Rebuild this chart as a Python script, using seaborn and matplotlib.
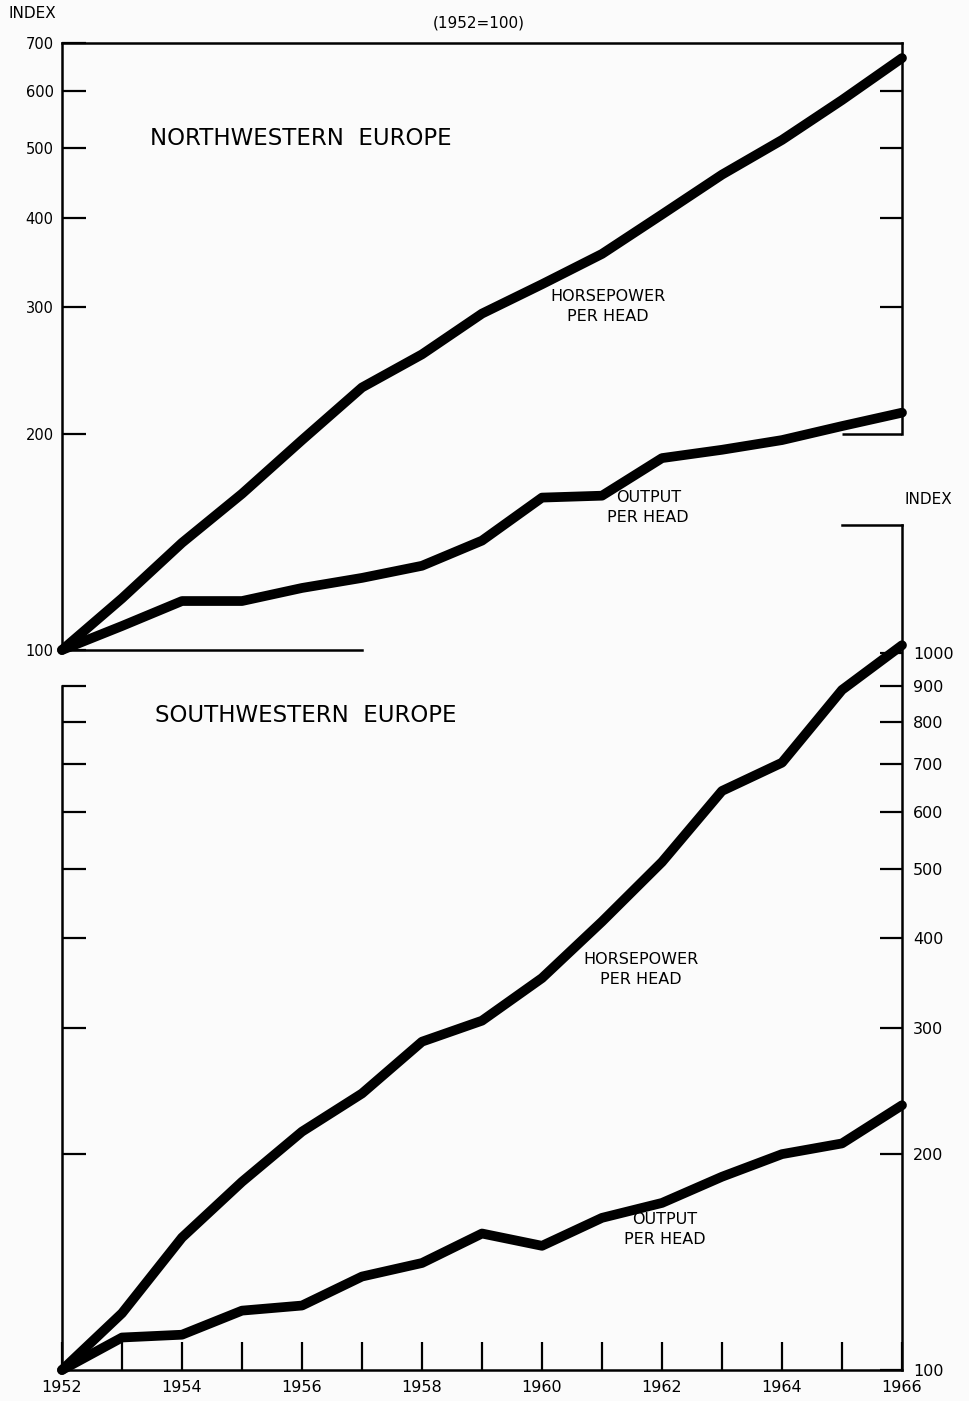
import numpy as np
import pandas as pd
import matplotlib
matplotlib.use("Agg")
import matplotlib.pyplot as plt
import seaborn as sns

# index values, 1952 = 100
years = list(range(1952, 1967))
nw_hp = [100, 118, 141, 165, 196, 232, 258, 294, 323, 356, 404, 459, 513, 583, 667]
nw_out = [100, 108, 117, 117, 122, 126, 131, 142, 163, 164, 185, 190, 196, 205, 214]
sw_hp = [100, 120, 153, 183, 215, 243, 287, 307, 352, 422, 511, 642, 703, 888, 1025]
sw_out = [100, 111, 112, 121, 123, 135, 141, 155, 149, 163, 171, 186, 200, 207, 234]

nw_left_ticks = [100, 200, 300, 400, 500, 600, 700]
nw_right_ticks = [300, 400, 500, 600]
sw_left_ticks = [200, 300, 400, 500, 600, 700, 800, 900]
sw_right_ticks = [100, 200, 300, 400, 500, 600, 700, 800, 900, 1000]
year_ticks = years
year_labels = [str(y) if y % 2 == 0 else "" for y in years]

df_nw = pd.DataFrame({"year": years * 2, "index": nw_hp + nw_out,
                      "series": ["hp"] * 15 + ["out"] * 15})
df_sw = pd.DataFrame({"year": years * 2, "index": sw_hp + sw_out,
                      "series": ["hp"] * 15 + ["out"] * 15})

sns.set_style("white")
plt.rcParams["font.family"] = ["DejaVu Sans"]
plt.rcParams["text.color"] = "black"
plt.rcParams["xtick.color"] = "black"
plt.rcParams["ytick.color"] = "black"
plt.rcParams["xtick.labelcolor"] = "black"
plt.rcParams["ytick.labelcolor"] = "black"

W, H = 969, 1401
fig = plt.figure(figsize=(W / 100, H / 100), dpi=100)
fig.patch.set_facecolor("#fbfbfb")


def box(l, t, r, b):
    return [l / W, 1 - b / H, (r - l) / W, (b - t) / H]


ax_nw = fig.add_axes(box(62, 43, 902, 650))
ax_sw = fig.add_axes(box(62, 525, 902, 1370))

line_kw = dict(lw=7, legend=False, clip_on=False,
               solid_joinstyle="round", solid_capstyle="round")

for ax, df, ylim in [(ax_nw, df_nw, (100, 700)), (ax_sw, df_sw, (100, 1508))]:
    ax.set_facecolor("none")
    ax.set_yscale("log")
    sns.lineplot(data=df, x="year", y="index", hue="series",
                 palette=["black", "black"], ax=ax, **line_kw)
    ax.set_xlim(1952, 1966)
    ax.set_ylim(*ylim)
    ax.minorticks_off()
    ax.set_xlabel("")
    ax.set_ylabel("")
    for s in ax.spines.values():
        s.set_linewidth(1.8)
        s.set_color("black")

# ---- top panel: northwestern europe
ax_nw.set_yticks(nw_left_ticks)
ax_nw.set_yticklabels([str(v) for v in nw_left_ticks])
ax_nw.tick_params(axis="y", direction="in", length=17, width=1.6,
                  labelsize=10.5, pad=6, right=False, left=True)
ax_nw.tick_params(axis="x", bottom=False, labelbottom=False)
ax_nw.spines["right"].set_bounds(200, 700)
ax_nw.spines["bottom"].set_bounds(1952, 1957)
ax_nw.hlines(200, 1965, 1966, color="black", lw=1.8)

tw_nw = ax_nw.twinx()
tw_nw.set_yscale("log")
tw_nw.set_ylim(100, 700)
tw_nw.minorticks_off()
tw_nw.set_yticks(nw_right_ticks)
tw_nw.set_yticklabels([])
tw_nw.tick_params(axis="y", direction="in", length=16, width=1.6)
for s in tw_nw.spines.values():
    s.set_visible(False)

ax_nw.text(1953.47, 516, "NORTHWESTERN  EUROPE", fontsize=16.5,
           ha="left", va="center")
ax_nw.text(1961.1, 301, "HORSEPOWER\nPER HEAD", fontsize=11.5,
           ha="center", va="center", linespacing=1.45)
ax_nw.text(1961.77, 158, "OUTPUT\nPER HEAD", fontsize=11.5,
           ha="center", va="center", linespacing=1.45)

# ---- bottom panel: southwestern europe
ax_sw.set_xticks(year_ticks)
ax_sw.set_xticklabels(year_labels)
ax_sw.tick_params(axis="x", direction="in", length=20, width=1.6,
                  labelsize=11.5, pad=7, top=False, bottom=True)
ax_sw.set_yticks(sw_left_ticks)
ax_sw.set_yticklabels([])
ax_sw.tick_params(axis="y", direction="in", length=17, width=1.6,
                  left=True, right=False)
ax_sw.spines["left"].set_bounds(100, 900)
ax_sw.spines["top"].set_bounds(1965, 1966)

tw_sw = ax_sw.twinx()
tw_sw.set_yscale("log")
tw_sw.set_ylim(100, 1508)
tw_sw.minorticks_off()
tw_sw.set_yticks(sw_right_ticks)
tw_sw.set_yticklabels([str(v) for v in sw_right_ticks])
tw_sw.tick_params(axis="y", direction="in", length=16, width=1.6,
                  labelsize=11.5, pad=8)
for s in tw_sw.spines.values():
    s.set_visible(False)

ax_sw.text(1953.55, 817, "SOUTHWESTERN  EUROPE", fontsize=16.5,
           ha="left", va="center")
ax_sw.text(1961.65, 362, "HORSEPOWER\nPER HEAD", fontsize=11.5,
           ha="center", va="center", linespacing=1.45)
ax_sw.text(1962.05, 157, "OUTPUT\nPER HEAD", fontsize=11.5,
           ha="center", va="center", linespacing=1.45)

# ---- loose labels
fig.text(8 / W, 1 - 14 / H, "INDEX", fontsize=11, ha="left", va="center")
fig.text(479 / W, 1 - 23 / H, "(1952=100)", fontsize=11, ha="center", va="center")
fig.text(928 / W, 1 - 500 / H, "INDEX", fontsize=11, ha="center", va="center")

fig.savefig("out.png", dpi=100, facecolor=fig.get_facecolor())
